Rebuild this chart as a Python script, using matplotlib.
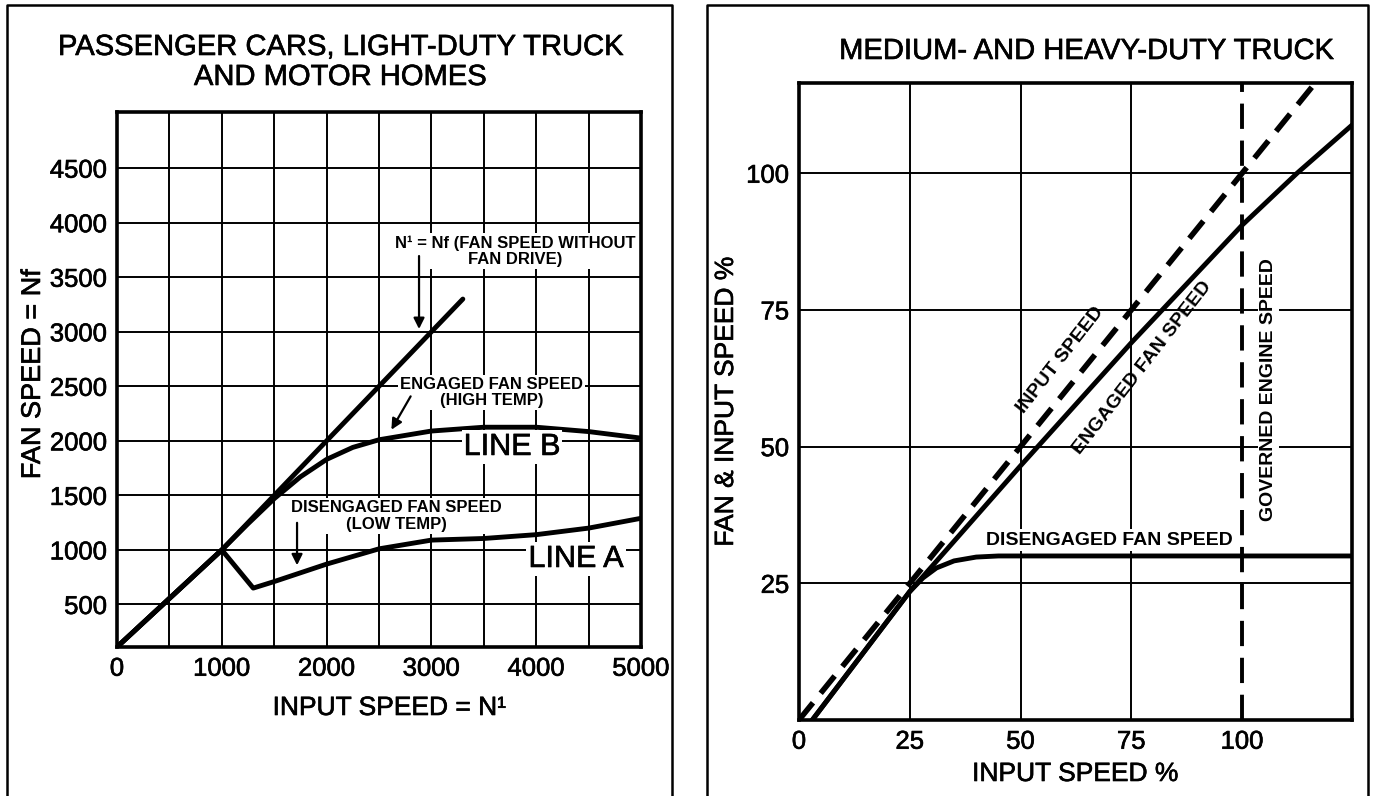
import matplotlib
matplotlib.use("Agg")
import matplotlib.pyplot as plt
from matplotlib.lines import Line2D
import matplotlib.patheffects as pe

plt.rcParams['font.family'] = ['Liberation Sans', 'DejaVu Sans']

W, H = 1377, 796

# left chart: passenger cars
left_xticks = [0, 500, 1000, 1500, 2000, 2500, 3000, 3500, 4000, 4500, 5000]
left_xlabels = ['0', '', '1000', '', '2000', '', '3000', '', '4000', '', '5000']
left_yticks = [500, 1000, 1500, 2000, 2500, 3000, 3500, 4000, 4500]
left_ylabels = ['500', '1000', '1500', '2000', '2500', '3000', '3500', '4000', '4500']

n_line_x = [0, 1000, 3300]
n_line_y = [110, 1000, 3300]
line_b_x = [0, 1000, 1250, 1500, 1750, 2000, 2250, 2500, 3000, 3500, 4000, 4500, 5000]
line_b_y = [110, 1000, 1240, 1470, 1670, 1830, 1940, 2010, 2090, 2125, 2125, 2085, 2025]
line_a_x = [0, 1000, 1300, 1500, 1750, 2000, 2500, 3000, 3500, 4000, 4500, 5000]
line_a_y = [110, 1000, 650, 710, 790, 870, 1010, 1090, 1105, 1140, 1200, 1290]

# right chart: medium and heavy duty truck
right_xticks = [0, 25, 50, 75, 100]
right_yticks = [25, 50, 75, 100]
input_x = [0, 125]
input_y = [0, 125]
engaged_x = [3, 25, 50, 75, 100, 112.4, 124.8]
engaged_y = [0, 23.5, 46.5, 69, 90.5, 100, 108.8]
diseng_x = [3, 25, 28, 31, 35, 40, 45, 124.8]
diseng_y = [0, 23.5, 26, 27.8, 29.1, 29.8, 30, 30]
governed_x = 100


def fx(px):
    return px / W


def fy(py):
    return 1 - py / H


# scanned print looks a bit heavier than the plain font
heavy = [pe.withStroke(linewidth=0.45, foreground='black')]

fig = plt.figure(figsize=(W / 100, H / 100), dpi=100)

# outer boxes (open at the bottom)
for x0, x1 in [(7, 672), (707, 1368)]:
    fig.add_artist(Line2D([fx(x0), fx(x0), fx(x1), fx(x1)], [0, fy(5), fy(5), 0],
                          transform=fig.transFigure, color='black', lw=1.8))

white = dict(facecolor='white', edgecolor='none', pad=1.5)
curve = dict(color='black', lw=3.5, solid_capstyle='round', solid_joinstyle='round')
arrow = dict(arrowstyle='-|>', color='black', lw=1.6, mutation_scale=16)

# ---- left chart ----
ax1 = fig.add_axes([fx(117), fy(647), fx(641) - fx(117), fy(112) - fy(647)])
ax1.set_xlim(0, 5000)
ax1.set_ylim(110, 5015)
ax1.set_xticks(left_xticks)
ax1.set_xticklabels(left_xlabels)
ax1.set_yticks(left_yticks)
ax1.set_yticklabels(left_ylabels)
ax1.tick_params(length=0, labelsize=18.5, pad=7)
ax1.grid(True, color='black', lw=1.4)
ax1.set_axisbelow(True)
for s in ax1.spines.values():
    s.set_linewidth(2.6)

ax1.plot(n_line_x, n_line_y, **curve)
ax1.plot(line_b_x, line_b_y, **curve)
ax1.plot(line_a_x, line_a_y, **curve)

ax1.annotate('', xy=(2882, 3000), xytext=(2882, 3720), arrowprops=arrow, zorder=6)
ax1.annotate('', xy=(2605, 2080), xytext=(2815, 2430), arrowprops=arrow, zorder=6)
ax1.annotate('', xy=(1718, 834), xytext=(1718, 1274), arrowprops=arrow, zorder=6)

ax1.text(3798, 3738, 'N\u00b9 = Nf (FAN SPEED WITHOUT\nFAN DRIVE)', ha='center', va='center',
         fontsize=12, fontweight='bold', linespacing=1.1, bbox=white, zorder=5)
ax1.text(3578, 2445, 'ENGAGED FAN SPEED\n(HIGH TEMP)', ha='center', va='center',
         fontsize=12, fontweight='bold', linespacing=1.05, bbox=white, zorder=5)
ax1.text(2662, 1311, 'DISENGAGED FAN SPEED\n(LOW TEMP)', ha='center', va='center',
         fontsize=12, fontweight='bold', linespacing=1.1, bbox=white, zorder=5)
ax1.text(3769, 1944, 'LINE B', ha='center', va='center', fontsize=22, bbox=white,
         path_effects=heavy, zorder=5)
ax1.text(4380, 917, 'LINE A', ha='center', va='center', fontsize=22, bbox=white,
         path_effects=heavy, zorder=5)

fig.text(fx(340), fy(47), 'PASSENGER CARS, LIGHT-DUTY TRUCK', ha='center', va='center',
         fontsize=21, path_effects=heavy)
fig.text(fx(340), fy(77), 'AND MOTOR HOMES', ha='center', va='center', fontsize=21, path_effects=heavy)
fig.text(fx(389), fy(708), 'INPUT SPEED = N\u00b9', ha='center', va='center', fontsize=19,
         path_effects=heavy)
fig.text(fx(33), fy(374), 'FAN SPEED = Nf', ha='center', va='center', fontsize=19.5, rotation=90,
         path_effects=heavy)

# ---- right chart ----
ax2 = fig.add_axes([fx(799), fy(720), fx(1352) - fx(799), fy(83) - fy(720)])
ax2.set_xlim(0, 124.8)
ax2.set_ylim(0, 116.5)
ax2.set_xticks(right_xticks)
ax2.set_yticks(right_yticks)
ax2.tick_params(length=0, labelsize=18.5, pad=7)
ax2.set_axisbelow(True)
for s in ax2.spines.values():
    s.set_linewidth(2.6)
for v in right_xticks[1:-1]:
    ax2.axvline(v, color='black', lw=1.4, zorder=0)
for v in right_yticks:
    ax2.axhline(v, color='black', lw=1.4, zorder=0)
ax2.axvline(governed_x, color='black', lw=2.8, dashes=(6.5, 3), zorder=1)

ax2.plot(input_x, input_y, color='black', lw=4, dashes=(4, 2.2))
ax2.plot(engaged_x, engaged_y, **curve)
ax2.plot(diseng_x, diseng_y, **curve)

ax2.text(59.1, 65.8, 'INPUT SPEED', ha='center', va='center', fontsize=14,
         fontweight='bold', rotation=52, rotation_mode='anchor')
ax2.text(77.5, 64.4, 'ENGAGED FAN SPEED', ha='center', va='center', fontsize=14,
         fontweight='bold', rotation=52, rotation_mode='anchor')
ax2.text(105.9, 60.5, 'GOVERNED ENGINE SPEED', ha='center', va='center', fontsize=14,
         fontweight='bold', rotation=90, bbox=white)
ax2.text(70, 32.9, 'DISENGAGED FAN SPEED', ha='center', va='center', fontsize=14,
         fontweight='bold', bbox=white)

fig.text(fx(1086), fy(51), 'MEDIUM- AND HEAVY-DUTY TRUCK', ha='center', va='center', fontsize=21,
         path_effects=heavy)
fig.text(fx(1075), fy(774), 'INPUT SPEED %', ha='center', va='center', fontsize=19, path_effects=heavy)
fig.text(fx(726), fy(402), 'FAN & INPUT SPEED %', ha='center', va='center', fontsize=19, rotation=90,
         path_effects=heavy)

for lab in ax1.get_xticklabels() + ax1.get_yticklabels() + ax2.get_xticklabels() + ax2.get_yticklabels():
    lab.set_path_effects(heavy)

fig.savefig('out.png', dpi=100)
